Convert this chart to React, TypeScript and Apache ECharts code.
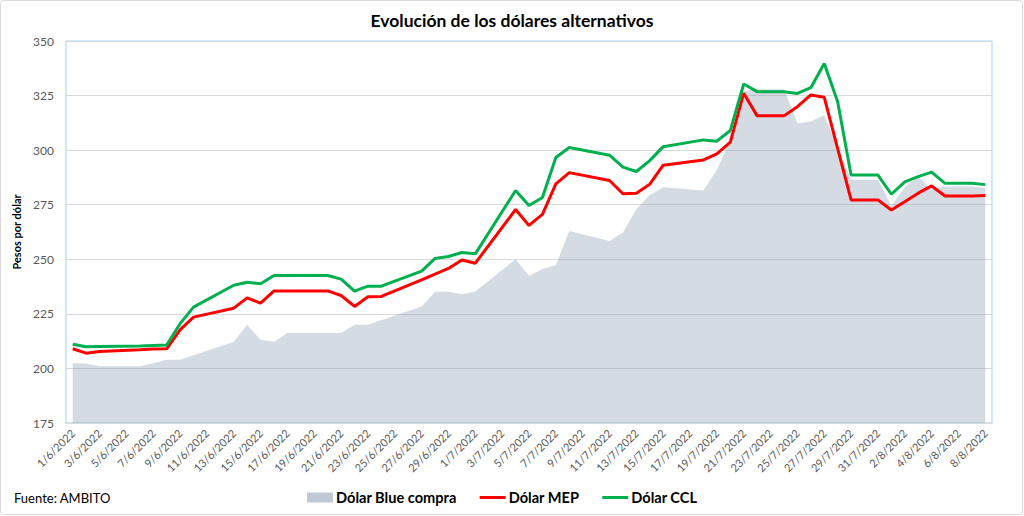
import React, { useEffect, useRef } from "react";
import * as echarts from "echarts";

const dates: string[] = [
  "1/6/2022", "2/6/2022", "3/6/2022", "4/6/2022", "5/6/2022", "6/6/2022", "7/6/2022", "8/6/2022", "9/6/2022", "10/6/2022",
  "11/6/2022", "12/6/2022", "13/6/2022", "14/6/2022", "15/6/2022", "16/6/2022", "17/6/2022", "18/6/2022", "19/6/2022", "20/6/2022",
  "21/6/2022", "22/6/2022", "23/6/2022", "24/6/2022", "25/6/2022", "26/6/2022", "27/6/2022", "28/6/2022", "29/6/2022", "30/6/2022",
  "1/7/2022", "2/7/2022", "3/7/2022", "4/7/2022", "5/7/2022", "6/7/2022", "7/7/2022", "8/7/2022", "9/7/2022", "10/7/2022",
  "11/7/2022", "12/7/2022", "13/7/2022", "14/7/2022", "15/7/2022", "16/7/2022", "17/7/2022", "18/7/2022", "19/7/2022", "20/7/2022",
  "21/7/2022", "22/7/2022", "23/7/2022", "24/7/2022", "25/7/2022", "26/7/2022", "27/7/2022", "28/7/2022", "29/7/2022", "30/7/2022",
  "31/7/2022", "1/8/2022", "2/8/2022", "3/8/2022", "4/8/2022", "5/8/2022", "6/8/2022", "7/8/2022", "8/8/2022",
];

// Dólar Blue compra
const blue: (number | null)[] = [
  202.4, 202.3, 201.0, null, null, 201.0, 202.4, 204.0, 204.0, null,
  null, null, 212.2, 220.0, 213.1, 212.2, 216.2, null, null, null,
  216.2, 220.0, 220.0, null, null, null, 228.4, 235.1, 235.1, 234.0,
  235.2, null, null, 250.0, 242.4, 245.5, 247.3, 263.0, null, null,
  258.4, 262.3, 272.9, 279.5, 283.0, null, null, 281.5, 291.0, 304.5,
  327.0, 327.9, null, 327.9, 312.3, 313.1, 316.1, null, 286.4, null,
  286.4, 274.5, 283.0, 287.9, 281.8, 283.3, null, 283.3, 282.6,
];

// Dólar MEP
const mep: (number | null)[] = [
  209.0, 207.0, 207.8, null, null, 208.6, 208.9, 209.0, 217.7, 223.5,
  null, null, 227.6, 232.3, 229.9, 235.5, null, null, null, 235.5,
  233.4, 228.4, 232.8, 233.0, null, null, 240.6, 243.2, 245.8, 249.7,
  248.2, null, null, 272.8, 265.5, 270.6, 284.5, 289.7, null, null,
  286.1, 280.0, 280.3, 284.4, 293.1, null, null, 295.5, 298.3, 303.7,
  326.1, 315.7, null, 315.7, 319.9, 325.3, 324.2, null, 277.2, null,
  277.2, 272.6, 276.4, 280.3, 283.6, 279.0, null, 279.0, 279.2,
];

// Dólar CCL
const ccl: (number | null)[] = [
  211.1, 209.9, 210.0, null, null, 210.3, 210.5, 210.7, 220.5, 228.1,
  null, null, 238.1, 239.5, 238.8, 242.6, null, null, null, 242.6,
  240.9, 235.4, 237.7, 237.7, null, null, 244.6, 250.4, 251.3, 253.1,
  252.5, null, null, 281.5, 274.6, 278.3, 296.6, 301.2, null, null,
  297.7, 292.2, 290.2, 295.2, 301.6, null, null, 304.7, 304.1, 309.0,
  330.3, 326.8, null, 326.8, 326.0, 328.6, 339.7, 322.2, 288.6, null,
  288.6, 279.8, 285.5, 287.9, 289.9, 284.8, null, 284.8, 284.2,
];

const seriesNames = ["Dólar Blue compra", "Dólar MEP", "Dólar CCL"];
const yTicks = { min: 175, max: 350, interval: 25 };

const FONT = "Lato, 'Open Sans', sans-serif";
const LINE_ICON = "path://M0,0 L26,0 L26,3 L0,3 Z";

export default function App() {
  const ref = useRef<HTMLDivElement>(null);

  useEffect(() => {
    if (!ref.current) return;
    const chart = echarts.init(ref.current, undefined, { renderer: "svg" });
    const option: any = {
      animation: false,
      backgroundColor: "#ffffff",
      title: {
        text: "Evolución de los dólares alternativos",
        left: "center",
        top: 6,
        textStyle: { fontFamily: FONT, fontWeight: "bold", fontSize: 17.5, color: "#000000" },
      },
      grid: {
        left: 66,
        right: 32,
        top: 41,
        bottom: 93,
        show: true,
        borderColor: "#9DD3F0",
        borderWidth: 1,
        backgroundColor: "transparent",
      },
      legend: {
        left: 307,
        top: 490,
        padding: 0,
        itemWidth: 26,
        itemHeight: 10,
        itemGap: 23,
        symbolKeepAspect: true,
        textStyle: { fontFamily: FONT, fontWeight: "bold", fontSize: 14.6, color: "#000000", padding: [0, 0, 0, -2] },
        data: [
          { name: seriesNames[0], icon: "rect", itemStyle: { color: "#C0C9D6" } },
          { name: seriesNames[1], icon: LINE_ICON, itemStyle: { color: "#FF0000" } },
          { name: seriesNames[2], icon: LINE_ICON, itemStyle: { color: "#00B050" } },
        ],
      },
      xAxis: {
        type: "category",
        data: dates,
        boundaryGap: true,
        axisLine: { show: true, lineStyle: { color: "#D9D9D9", width: 1 } },
        axisTick: { show: false },
        splitLine: { show: false },
        axisLabel: {
          interval: 1,
          rotate: 45,
          fontFamily: FONT,
          fontSize: 11,
          color: "#595959",
          margin: 8,
        },
      },
      yAxis: {
        type: "value",
        min: yTicks.min,
        max: yTicks.max,
        interval: yTicks.interval,
        name: "Pesos por dólar",
        nameLocation: "middle",
        nameGap: 44,
        nameRotate: 90,
        nameTextStyle: { fontFamily: FONT, fontWeight: "bold", fontSize: 11, color: "#000000" },
        axisLine: { show: false },
        axisTick: { show: false },
        axisLabel: { fontFamily: FONT, fontSize: 12, color: "#595959", margin: 12 },
        splitLine: { show: true, lineStyle: { color: "#D9D9D9", width: 1 } },
      },
      graphic: [
        {
          type: "rect",
          silent: true,
          z: -10,
          shape: { x: 0.5, y: 0.5, width: 1022, height: 514, r: 3 },
          style: { fill: "none", stroke: "#D9D9D9", lineWidth: 1 },
        },
        {
          type: "text",
          left: 14,
          top: 491,
          style: { text: "Fuente: AMBITO", fontFamily: FONT, fontSize: 13, fill: "#000000" },
        },
      ],
      series: [
        {
          name: seriesNames[0],
          type: "line",
          data: blue,
          connectNulls: true,
          symbol: "none",
          color: "#C0C9D6",
          lineStyle: { width: 0 },
          areaStyle: { color: "rgba(132,151,176,0.5)", origin: "start" },
          z: 1,
        },
        {
          name: seriesNames[1],
          type: "line",
          data: mep,
          connectNulls: true,
          symbol: "none",
          color: "#FF0000",
          lineStyle: { width: 3, color: "#FF0000" },
          z: 3,
        },
        {
          name: seriesNames[2],
          type: "line",
          data: ccl,
          connectNulls: true,
          symbol: "none",
          color: "#00B050",
          lineStyle: { width: 3, color: "#00B050" },
          z: 4,
        },
      ],
    };
    chart.setOption(option);
    return () => chart.dispose();
  }, []);

  return (
    <div
      ref={ref}
      style={{ position: "fixed", left: 0, top: 0, width: 1024, height: 516, background: "#fff" }}
    />
  );
}
